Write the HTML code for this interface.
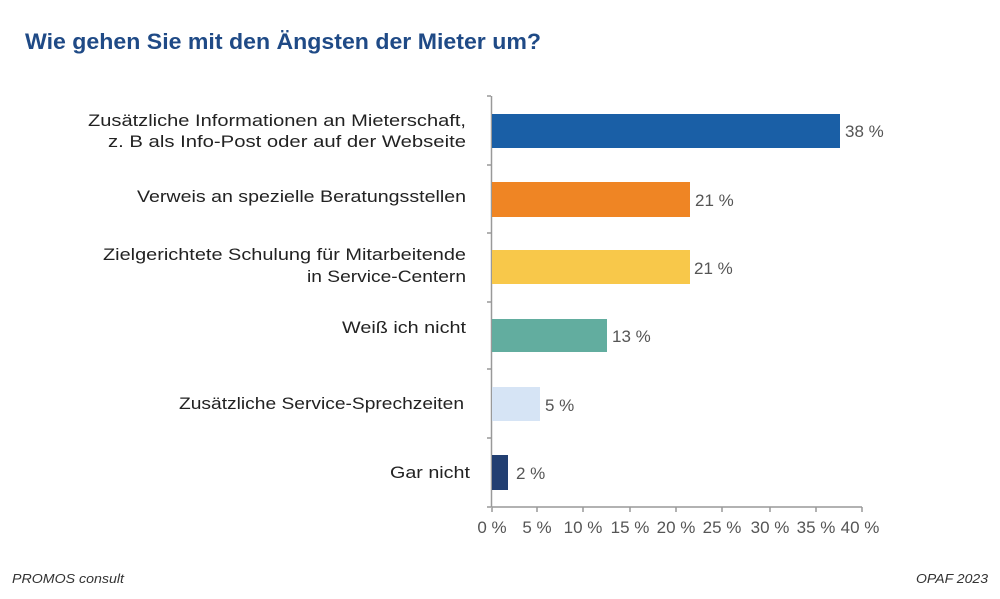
<!DOCTYPE html>
<html><head><meta charset="utf-8"><style>
body{margin:0;width:1000px;height:594px;background:#fff;overflow:hidden;font-family:"Liberation Sans",sans-serif}
</style></head><body>
<svg width="1000" height="594" xmlns="http://www.w3.org/2000/svg" font-family="Liberation Sans, sans-serif">
<text x="25" y="49" font-size="22" font-weight="bold" fill="#1f4a86" textLength="516" lengthAdjust="spacingAndGlyphs">Wie gehen Sie mit den Ängsten der Mieter um?</text>
<g stroke="#999" stroke-width="1.5">
<line x1="491.5" y1="96" x2="491.5" y2="507"/>
<line x1="491.5" y1="507" x2="862" y2="507"/>
<line x1="487" y1="96" x2="491" y2="96"/><line x1="487" y1="165" x2="491" y2="165"/><line x1="487" y1="233" x2="491" y2="233"/><line x1="487" y1="302" x2="491" y2="302"/><line x1="487" y1="369" x2="491" y2="369"/><line x1="487" y1="438" x2="491" y2="438"/><line x1="487" y1="507" x2="491" y2="507"/>
<line x1="492" y1="507" x2="492" y2="512"/><line x1="537" y1="507" x2="537" y2="512"/><line x1="583" y1="507" x2="583" y2="512"/><line x1="630" y1="507" x2="630" y2="512"/><line x1="676" y1="507" x2="676" y2="512"/><line x1="722" y1="507" x2="722" y2="512"/><line x1="770" y1="507" x2="770" y2="512"/><line x1="816" y1="507" x2="816" y2="512"/><line x1="862" y1="507" x2="862" y2="512"/>
</g>
<rect x="492" y="114" width="348" height="34" fill="#1a5fa6"/>
<rect x="492" y="182" width="198" height="35" fill="#ef8524"/>
<rect x="492" y="250" width="198" height="34" fill="#f8c84a"/>
<rect x="492" y="319" width="115" height="33" fill="#62ad9f"/>
<rect x="492" y="387" width="48" height="34" fill="#d6e4f5"/>
<rect x="492" y="455" width="16" height="35" fill="#223f72"/>
<g font-size="17" fill="#555">
<text x="845" y="137">38 %</text>
<text x="695" y="206">21 %</text>
<text x="694" y="274">21 %</text>
<text x="612" y="342">13 %</text>
<text x="545" y="411">5 %</text>
<text x="516" y="479">2 %</text>
</g>
<g font-size="17" fill="#555" text-anchor="middle">
<text x="492" y="533">0 %</text><text x="537" y="533">5 %</text><text x="583" y="533">10 %</text><text x="630" y="533">15 %</text><text x="676" y="533">20 %</text><text x="722" y="533">25 %</text><text x="770" y="533">30 %</text><text x="816" y="533">35 %</text><text x="860" y="533">40 %</text>
</g>
<g font-size="17" fill="#222" lengthAdjust="spacingAndGlyphs">
<text x="88" y="126" textLength="378" lengthAdjust="spacingAndGlyphs">Zusätzliche Informationen an Mieterschaft,</text>
<text x="108" y="147" textLength="358" lengthAdjust="spacingAndGlyphs">z. B als Info-Post oder auf der Webseite</text>
<text x="137" y="202" textLength="329" lengthAdjust="spacingAndGlyphs">Verweis an spezielle Beratungsstellen</text>
<text x="103" y="260" textLength="363" lengthAdjust="spacingAndGlyphs">Zielgerichtete Schulung für Mitarbeitende</text>
<text x="307" y="282" textLength="159" lengthAdjust="spacingAndGlyphs">in Service-Centern</text>
<text x="342" y="333" textLength="124" lengthAdjust="spacingAndGlyphs">Weiß ich nicht</text>
<text x="179" y="409" textLength="285" lengthAdjust="spacingAndGlyphs">Zusätzliche Service-Sprechzeiten</text>
<text x="390" y="478" textLength="80" lengthAdjust="spacingAndGlyphs">Gar nicht</text>
</g>
<text x="12" y="583" font-size="13" font-style="italic" fill="#333" textLength="112" lengthAdjust="spacingAndGlyphs">PROMOS consult</text>
<text x="916" y="583" font-size="13" font-style="italic" fill="#333" textLength="72" lengthAdjust="spacingAndGlyphs">OPAF 2023</text>
</svg>
</body></html>
